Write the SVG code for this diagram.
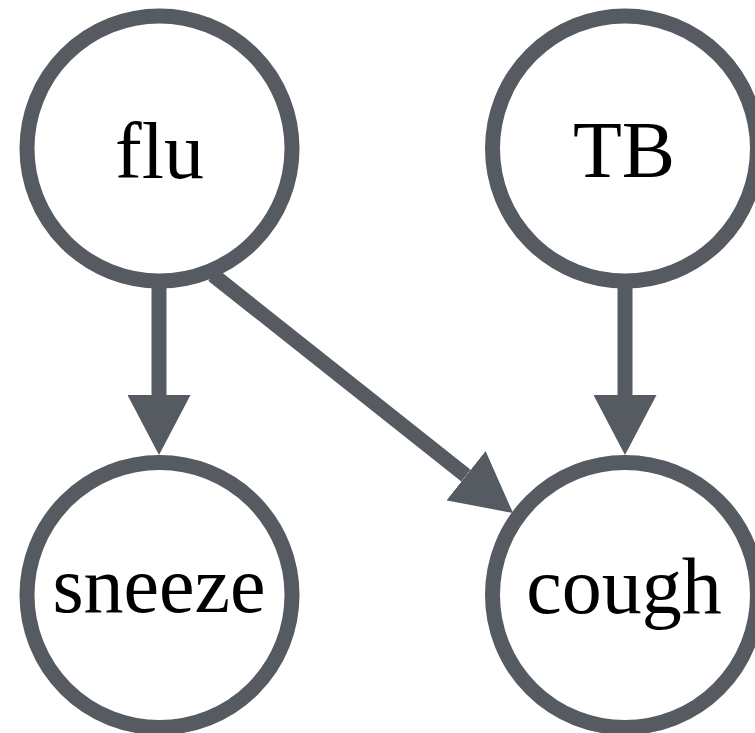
<svg xmlns="http://www.w3.org/2000/svg" width="755" height="733" viewBox="0 0 755 733">
  <style>
    .node circle { fill: #ffffff; stroke: #565b62; stroke-width: 15; }
    .node text { font-family: "Liberation Serif", "DejaVu Serif", serif; font-size: 80px; fill: #000000; text-anchor: middle; }
    .edge { stroke: #565b62; stroke-width: 15; fill: none; marker-end: url(#arrow); }
  </style>
  <defs>
    <marker id="arrow" markerUnits="userSpaceOnUse" viewBox="0 0 60 63" markerWidth="60" markerHeight="63" refX="0" refY="31.5" orient="auto">
      <path d="M0,0 L60,31.5 L0,63 Z" fill="#565b62"/>
    </marker>
  </defs>

  <!-- directed edges -->
  <g id="edges">
    <line class="edge" x1="159" y1="288" x2="159" y2="395"/>
    <line class="edge" x1="213" y1="275" x2="466" y2="475.7"/>
    <line class="edge" x1="625" y1="288" x2="625" y2="395"/>
  </g>

  <g id="flu" class="node">
    <circle cx="159.5" cy="148.5" r="132.5"/>
    <text x="159.5" y="178">flu</text>
  </g>
  <g id="TB" class="node">
    <circle cx="625" cy="148.5" r="132.5"/>
    <text x="624" y="177">TB</text>
  </g>
  <g id="sneeze" class="node">
    <circle cx="159.5" cy="595" r="132.5"/>
    <text x="159" y="612">sneeze</text>
  </g>
  <g id="cough" class="node">
    <circle cx="625" cy="595" r="132.5"/>
    <text x="624" y="613">cough</text>
  </g>
</svg>
